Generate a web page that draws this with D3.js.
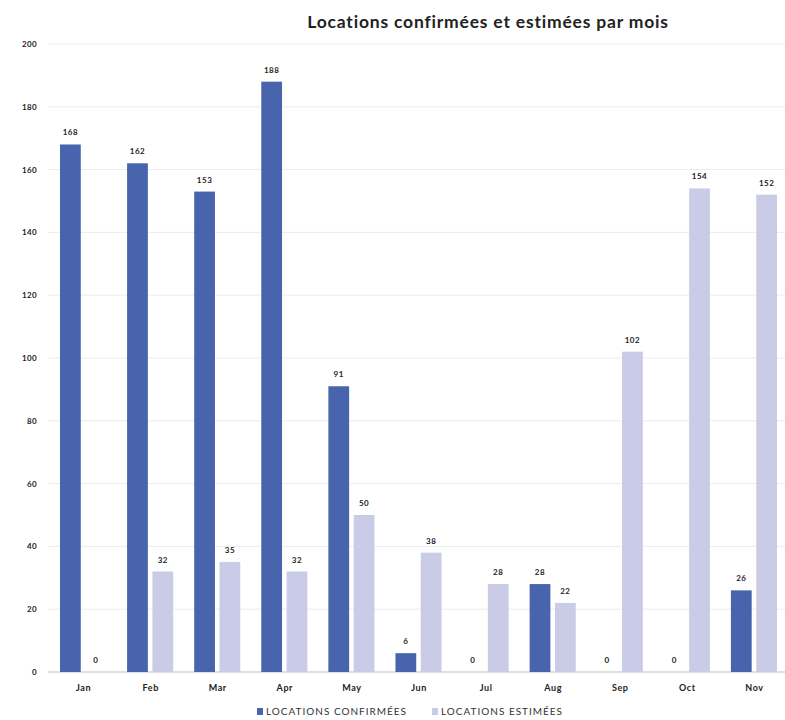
<!DOCTYPE html>
<html>
<head>
<meta charset="utf-8">
<script src="https://cdn.jsdelivr.net/npm/d3@7"></script>
<style>
    body { margin: 0; background: #fff; }
    svg text { font-family: "Lato", "DejaVu Sans", sans-serif; }
</style>
</head>
<body>
<svg id="container" width="785" height="720"></svg>
<script>
const months = ["Jan", "Feb", "Mar", "Apr", "May", "Jun", "Jul", "Aug", "Sep", "Oct", "Nov"];
const confirmed = [168, 162, 153, 188, 91, 6, 0, 28, 0, 0, 26];
const estimated = [0, 32, 35, 32, 50, 38, 28, 22, 102, 154, 152];
const seriesNames = ["LOCATIONS CONFIRMÉES", "LOCATIONS ESTIMÉES"];
const yTicks = [0, 20, 40, 60, 80, 100, 120, 140, 160, 180, 200];
const colors = ["#4864ac", "#c9cbe7"];

function drawChart() {
    let svg = d3.select("#container");

    let x = d3.scaleBand().domain(months).range([50, 788]).padding(0);
    let inner = d3.scaleBand().domain([0, 1])
        .range([10, x.bandwidth() - 11]).paddingInner(0.18);
    let y = d3.scaleLinear().domain([0, 200]).range([672, 44]);

    // title
    svg.append("text")
        .attr("x", 488).attr("y", 28)
        .attr("text-anchor", "middle")
        .attr("font-size", 17.5).attr("font-weight", "bold")
        .attr("letter-spacing", 0.8)
        .attr("fill", "#222")
        .text("Locations confirmées et estimées par mois");

    // grid
    svg.append("g").selectAll("line")
        .data(yTicks).enter().append("line")
        .attr("x1", 48).attr("x2", 785)
        .attr("y1", d => y(d)).attr("y2", d => y(d))
        .attr("stroke", d => d === 0 ? "#d4d4d4" : "#ececec")
        .attr("stroke-width", d => d === 0 ? 1.5 : 1);

    let yAxis = d3.axisLeft(y).tickValues(yTicks).tickSize(0).tickPadding(0);
    let yg = svg.append("g").attr("transform", "translate(37,0)").call(yAxis);
    yg.select(".domain").remove();
    yg.selectAll("text")
        .attr("font-size", 8).attr("font-weight", "bold")
        .attr("letter-spacing", 0.4)
        .attr("fill", "#222")
        .style("font-family", "Lato, 'DejaVu Sans', sans-serif");

    let xAxis = d3.axisBottom(x).tickSize(0).tickPadding(0);
    let xg = svg.append("g").attr("transform", "translate(0,685)").call(xAxis);
    xg.select(".domain").remove();
    xg.selectAll("text")
        .attr("font-size", 9).attr("font-weight", "bold")
        .attr("letter-spacing", 0.6)
        .attr("fill", "#222")
        .style("font-family", "Lato, 'DejaVu Sans', sans-serif");

    let rows = months.map((m, i) => ({ m: m, vals: [confirmed[i], estimated[i]] }));

    let groups = svg.append("g").selectAll("g")
        .data(rows).enter().append("g")
        .attr("transform", d => "translate(" + x(d.m) + ",0)");

    groups.selectAll("rect")
        .data(d => d.vals.map((v, k) => ({ k: k, v: v })))
        .enter().append("rect")
        .attr("x", d => inner(d.k))
        .attr("width", inner.bandwidth())
        .attr("y", d => y(d.v))
        .attr("height", d => y(0) - y(d.v))
        .attr("fill", d => colors[d.k]);

    groups.selectAll("text")
        .data(d => d.vals.map((v, k) => ({ k: k, v: v })))
        .enter().append("text")
        .attr("x", d => inner(d.k) + inner.bandwidth() / 2)
        .attr("y", d => y(d.v) - 9)
        .attr("text-anchor", "middle")
        .attr("font-size", 8).attr("font-weight", "bold")
        .attr("letter-spacing", 0.5)
        .attr("fill", "#222")
        .text(d => d.v);

    // legend
    let legendX = [257, 432];
    let legend = svg.append("g").selectAll("g")
        .data(seriesNames).enter().append("g")
        .attr("transform", (d, i) => "translate(" + legendX[i] + ",715)");
    legend.append("rect")
        .attr("x", 0).attr("y", -7)
        .attr("width", 6).attr("height", 7)
        .attr("fill", (d, i) => colors[i]);
    legend.append("text")
        .attr("x", 9).attr("y", 0)
        .attr("font-size", 10)
        .attr("letter-spacing", 1)
        .attr("fill", "#333")
        .text(d => d);
}

document.addEventListener("DOMContentLoaded", drawChart);
</script>
</body>
</html>
